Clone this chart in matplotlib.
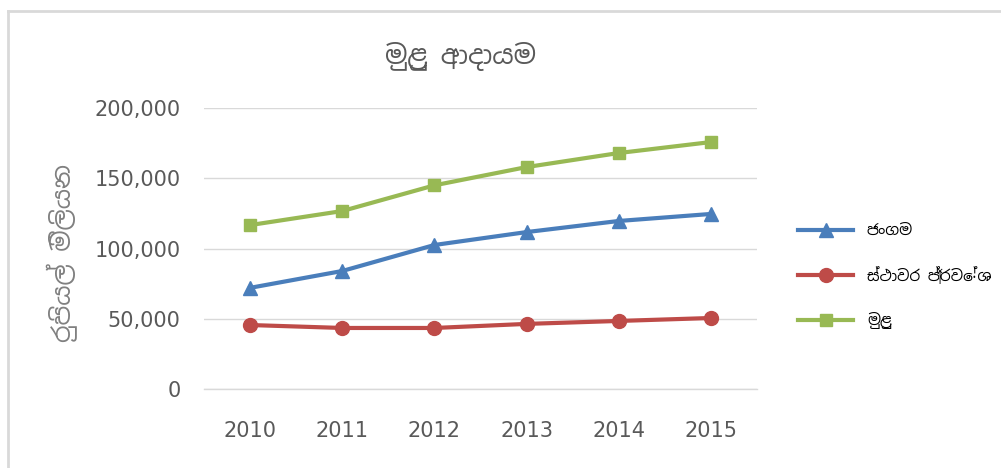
import matplotlib
matplotlib.use('Agg')
import matplotlib.pyplot as plt

years=['2010','2011','2012','2013','2014','2015']
mobile=[72000,84000,102500,111700,119600,124600]
fixed=[45500,43400,43400,46300,48400,50500]
total=[116700,126700,145000,158000,168000,175800]
labels=['ජංගම','ස්ථාවර ප්‍රවේශ','මුළු']
title='මුළු ආදායම'
ylabel='රුපියල් මිලියන'

fam=['Noto Sans Sinhala','DejaVu Sans']

fig=plt.figure(figsize=(10.01,4.68),dpi=100)
ax=fig.add_axes([0.204,0.169,0.552,0.6])
x=range(len(years))
ax.plot(x,mobile,color='#4a7ebb',lw=3,marker='^',ms=10,label=labels[0])
ax.plot(x,fixed,color='#be4b48',lw=3,marker='o',ms=10,label=labels[1])
ax.plot(x,total,color='#98b954',lw=3,marker='s',ms=9,label=labels[2])
ax.set_xlim(-0.5,5.5)
ax.set_ylim(0,200000)
ax.set_yticks(range(0,200001,50000))
ax.set_yticklabels([f'{v:,}' for v in range(0,200001,50000)])
ax.set_xticks(list(x))
ax.set_xticklabels(years)
ax.grid(axis='y',color='#d9d9d9',lw=1)
ax.axhline(0,color='#d9d9d9',lw=1,clip_on=False,zorder=0)
ax.set_axisbelow(True)
for s in ax.spines.values():s.set_visible(False)
ax.tick_params(length=0,labelsize=15,labelcolor='#595959')
ax.tick_params(axis='x',pad=23)
ax.tick_params(axis='y',pad=17)
fig.text(0.46,0.88,title,ha='center',va='center',fontsize=19,color='#595959',family=fam)
fig.text(0.062,0.46,ylabel,ha='center',va='center',rotation=90,fontsize=18,color='#808080',family=fam)
ax.legend(loc='center left',bbox_to_anchor=(1.05,0.4),frameon=False,prop={'family':fam,'size':11,'weight':'bold'},
          labelspacing=1.8,handlelength=3.6,handletextpad=0.9)
fig.add_artist(plt.Line2D([0.008,1.0],[0.976,0.976],color='#d9d9d9',lw=2,transform=fig.transFigure))
fig.add_artist(plt.Line2D([0.008,0.008],[0.0,0.976],color='#d9d9d9',lw=2,transform=fig.transFigure))
fig.savefig('out.png',dpi=100)
